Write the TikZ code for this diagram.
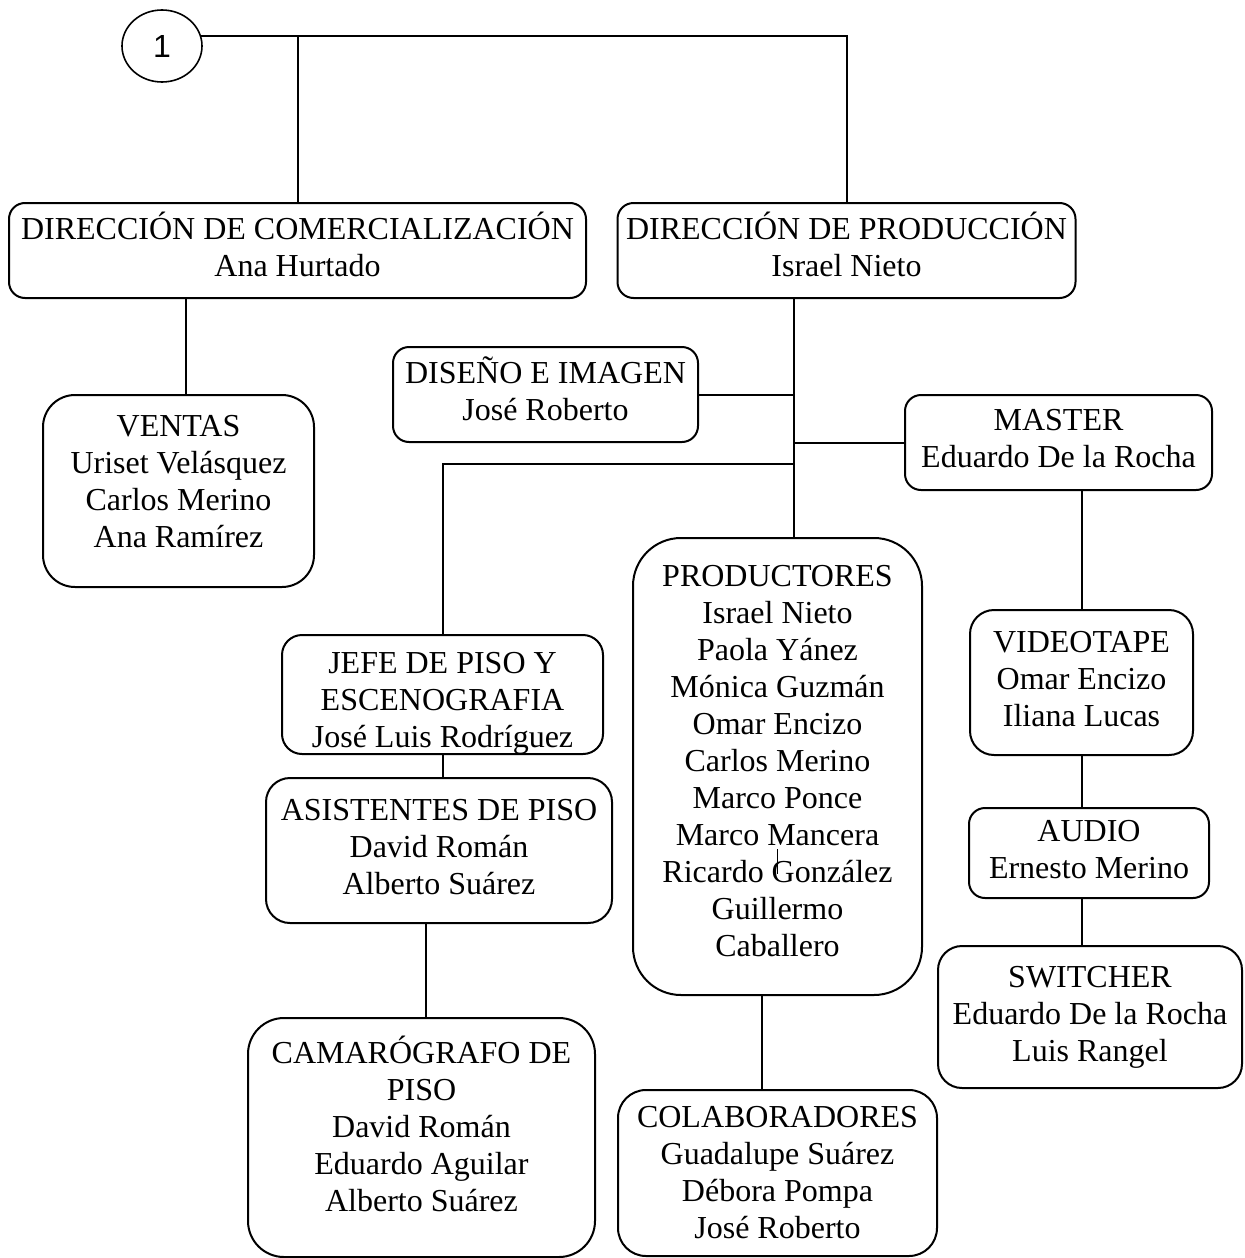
\documentclass[tikz,border=0pt]{standalone}
\usepackage{fontspec}
\setmainfont{Liberation Serif}
\newfontfamily\numfont{Liberation Sans}
\usepackage{tikz}
\usetikzlibrary{positioning,shapes.geometric}
\tikzset{cargo/.style n args={3}{
    draw, line width=1pt,
    rounded corners=#3,
    minimum width=#1,
    minimum height=#2,
    align=center,
    inner sep=0pt,
    font=\fontsize{16}{18.5}\selectfont
  },
  subir/.style={text depth=#1},
  bajar/.style={text height=#1, text depth=0pt},
  enlace/.style={line width=1pt}
}

\begin{document}
\begin{tikzpicture}[x=0.5pt,y=-0.5pt]
    \useasboundingbox (0,0) rectangle (1244,1258);
    \node[ellipse, draw, line width=0.8pt, minimum width=40pt, minimum height=36pt, inner sep=0pt,
      font=\numfont\fontsize{16}{18.5}\selectfont] (uno) at (162,46) {1};
    \node[cargo={288.5pt}{47.5pt}{8pt}, subir=6pt] (dcom) at (297.5,250.5) {DIRECCIÓN DE COMERCIALIZACIÓN\\Ana Hurtado};
    \node[cargo={229pt}{47.5pt}{8pt}, subir=6pt] (dprod) at (846.5,250.5) {DIRECCIÓN DE PRODUCCIÓN\\Israel Nieto};
    \node[cargo={135.5pt}{96pt}{16pt}, subir=10pt] (ventas) at (178.5,491) {VENTAS\\Uriset Velásquez\\Carlos Merino\\Ana Ramírez};
    \node[cargo={152.5pt}{47.5pt}{8pt}, subir=6pt] (diseno) at (545.5,394.5) {DISEÑO E IMAGEN\\José Roberto};
    \node[cargo={153.5pt}{47.5pt}{8pt}, subir=4pt] (master) at (1058.5,442.5) {MASTER\\Eduardo De la Rocha};
    \node[cargo={144.5pt}{228.5pt}{24pt}, subir=6pt] (prod) at (777.5,766.5) {PRODUCTORES\\Israel Nieto\\Paola Yánez\\Mónica Guzmán\\Omar Encizo\\Carlos Merino\\Marco Ponce\\Marco Mancera\\Ricardo González\\Guillermo\\Caballero};
    \node[cargo={160.5pt}{59.5pt}{10pt}, bajar=53pt] (jefe) at (442.5,694.5) {JEFE DE PISO Y\\ESCENOGRAFIA\\José Luis Rodríguez};
    \node[cargo={173pt}{72.5pt}{12pt}, subir=4pt] (asis) at (439,850.5) {ASISTENTES DE PISO\\David Román\\Alberto Suárez};
    \node[cargo={173.5pt}{119.5pt}{18pt}, subir=14pt] (cama) at (421.5,1137.5) {CAMARÓGRAFO DE\\PISO\\David Román\\Eduardo Aguilar\\Alberto Suárez};
    \node[cargo={111.5pt}{72.5pt}{12pt}, subir=4pt] (video) at (1081.5,682.5) {VIDEOTAPE\\Omar Encizo\\Iliana Lucas};
    \node[cargo={120pt}{45pt}{8pt}, subir=4pt] (audio) at (1089,853) {AUDIO\\Ernesto Merino};
    \node[cargo={152pt}{71pt}{12pt}] (switch) at (1090,1017) {SWITCHER\\Eduardo De la Rocha\\Luis Rangel};
    \node[cargo={159.5pt}{83pt}{14pt}] (colab) at (777.5,1173) {COLABORADORES\\Guadalupe Suárez\\Débora Pompa\\José Roberto};

    \coordinate (xv) at (186,0);
    \coordinate (xt) at (794,0);
    \coordinate (xa) at (426,0);
    \coordinate (xc) at (762,0);
    \coordinate (xr) at (1082,0);
    \coordinate (yj) at (0,464);

    \draw[enlace] (uno.15) -| (dprod.north);
    \draw[enlace] (dcom.north) -- (dcom.north |- uno.15);
    \draw[enlace] (ventas.north -| xv) -- (dcom.south -| xv);
    \draw[enlace] (dprod.south -| xt) -- (prod.north -| xt);
    \draw[enlace] (diseno.east) -- (diseno.east -| xt);
    \draw[enlace] (master.west) -- (master.west -| xt);
    \draw[enlace] (xt |- yj) -| (jefe.north);
    \draw[enlace] (jefe.south) -- (jefe.south |- asis.north);
    \draw[enlace] (asis.south -| xa) -- (cama.north -| xa);
    \draw[enlace] (prod.south -| xc) -- (colab.north -| xc);
    \draw[enlace] (master.south -| xr) -- (video.north -| xr);
    \draw[enlace] (video.south -| xr) -- (audio.north -| xr);
    \draw[enlace] (audio.south -| xr) -- (switch.north -| xr);
    \draw[line width=0.5pt] (777,849) -- (777,874);
\end{tikzpicture}
\end{document}
